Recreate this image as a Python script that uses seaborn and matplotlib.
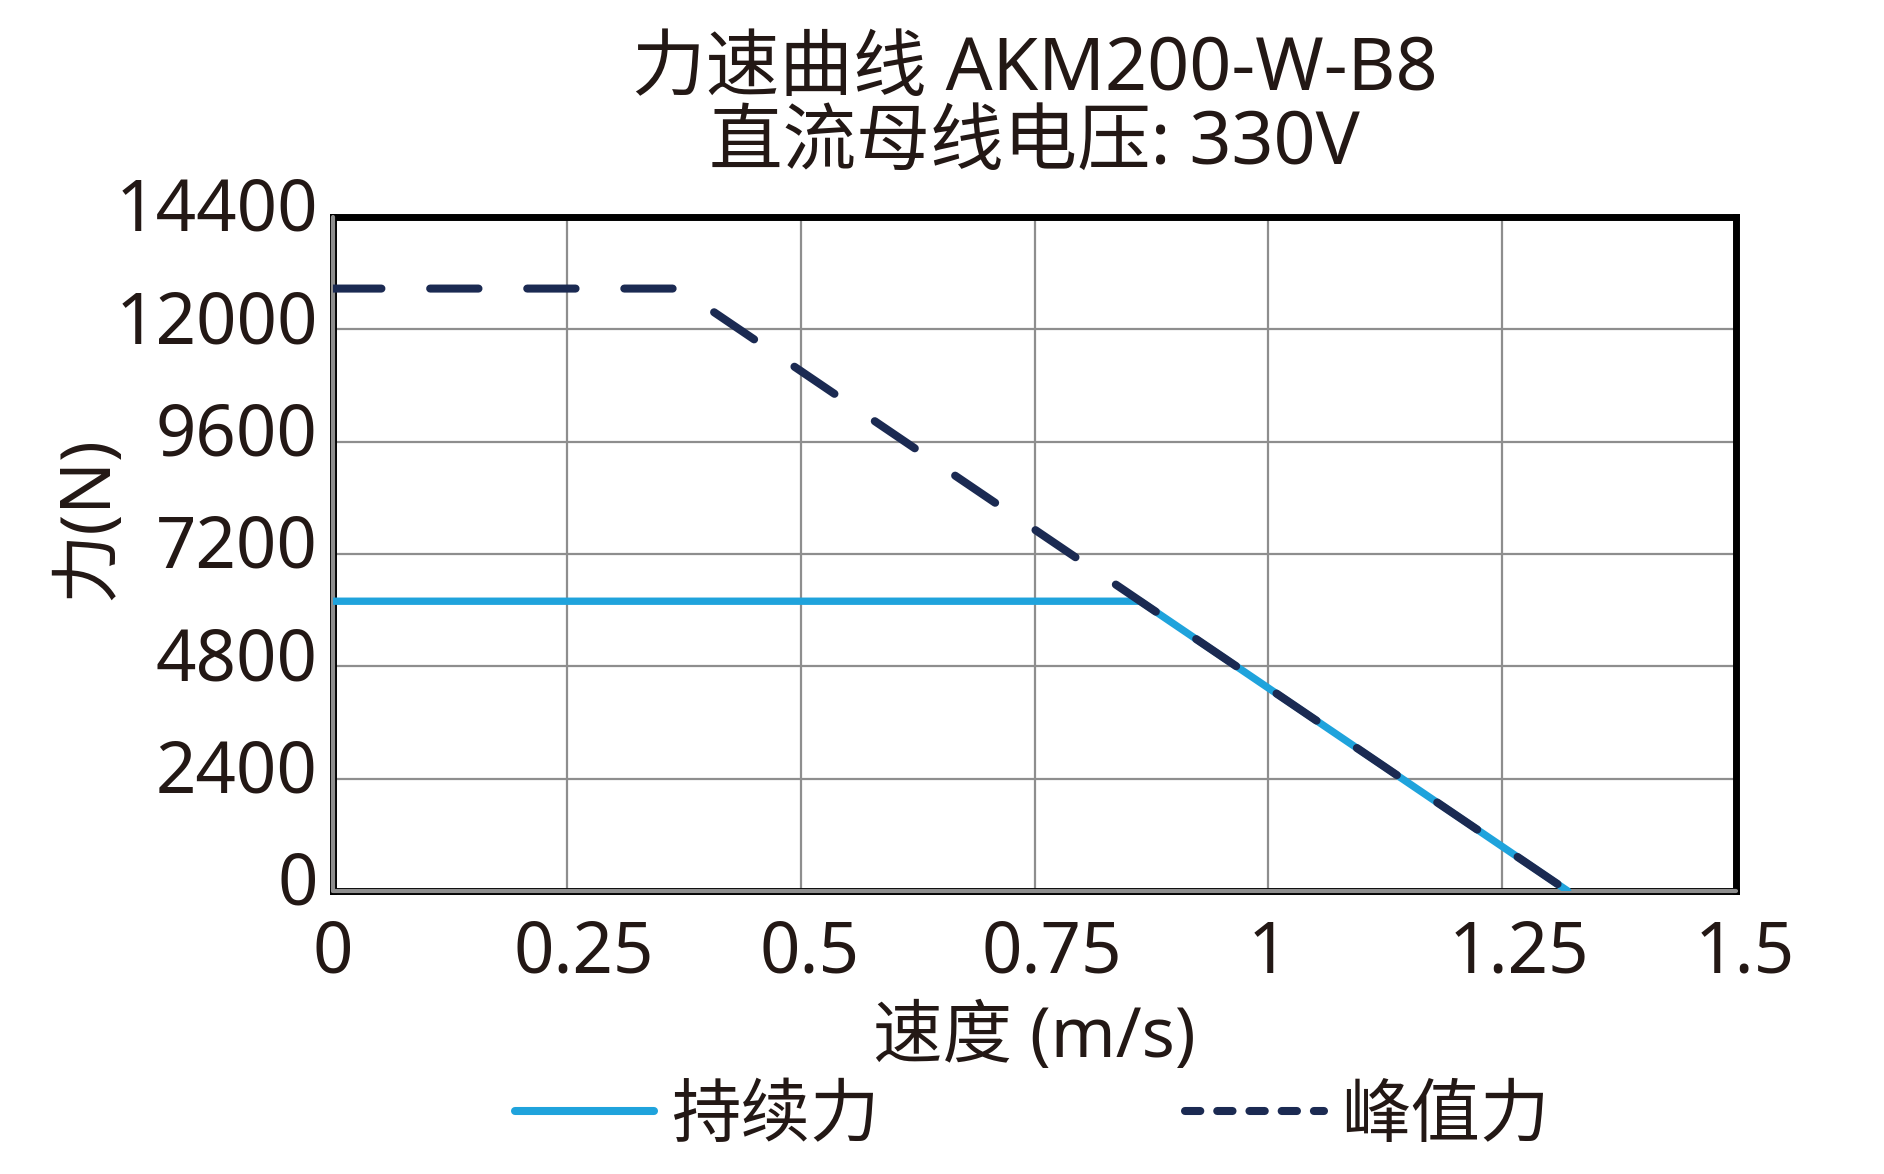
import matplotlib
matplotlib.use("Agg")
import matplotlib.pyplot as plt
from matplotlib.lines import Line2D
from matplotlib.transforms import ScaledTranslation
import seaborn as sns
import pandas as pd

# ---- data ----
cont_speed = [0.0, 0.863, 1.32]
cont_force = [6190, 6190, 0]
peak_speed = [0.0, 0.37, 1.32]
peak_force = [12870, 12870, 0]
x_ticks = [0, 0.25, 0.5, 0.75, 1.0, 1.25, 1.5]
x_tick_labels = ["0", "0.25", "0.5", "0.75", "1", "1.25", "1.5"]
y_ticks = [0, 2400, 4800, 7200, 9600, 12000, 14400]
y_tick_labels = ["0", "2400", "4800", "7200", "9600", "12000", "14400"]
series_names = ["持续力", "峰值力"]
title_text = "力速曲线 AKM200-W-B8\n直流母线电压: 330V"
x_label = "速度 (m/s)"
y_label = "力(N)"

BLUE = "#1fa3dc"
NAVY = "#1b2a52"
TEXT = "#231815"
GRID = "#8e8e8e"

sns.set_theme(style="white")
plt.rcParams["font.family"] = ["Noto Sans", "Noto Sans CJK SC", "DejaVu Sans"]
plt.rcParams["text.color"] = TEXT
plt.rcParams["axes.labelcolor"] = TEXT
plt.rcParams["xtick.color"] = TEXT
plt.rcParams["ytick.color"] = TEXT

fig = plt.figure(figsize=(18.84, 11.74), dpi=100)
ax = fig.add_axes([0.1768, 0.2411, 0.7447, 0.5741])

df_c = pd.DataFrame({"speed": cont_speed, "force": cont_force})
df_p = pd.DataFrame({"speed": peak_speed, "force": peak_force})

sns.lineplot(data=df_c, x="speed", y="force", ax=ax, color=BLUE, lw=5.3,
             solid_capstyle="round", solid_joinstyle="round", zorder=4,
             estimator=None, sort=False)
sns.lineplot(data=df_p, x="speed", y="force", ax=ax, color=NAVY, lw=5.8,
             linestyle=(0, (6.0, 6.05)), dash_capstyle="round",
             dash_joinstyle="round", zorder=5, estimator=None, sort=False)

ax.set_xlim(0, 1.5)
ax.set_ylim(0, 14400)
ax.set_xticks(x_ticks)
ax.set_xticklabels(x_tick_labels)
ax.set_yticks(y_ticks)
ax.set_yticklabels(y_tick_labels)
ax.tick_params(axis="both", length=0, labelsize=51)
ax.tick_params(axis="x", pad=20)
ax.tick_params(axis="y", pad=11)

# small offsets of the tick labels, as in the reference rendering
for lbl in ax.get_xticklabels():
    n = len(lbl.get_text())
    dx = max(0, n - 2) * 8.5 / fig.dpi
    lbl.set_transform(lbl.get_transform() + ScaledTranslation(dx, 0, fig.dpi_scale_trans))
for lbl in ax.get_yticklabels():
    lbl.set_transform(lbl.get_transform() + ScaledTranslation(0, 13 / fig.dpi, fig.dpi_scale_trans))

ax.grid(True, color=GRID, lw=1.6)
ax.set_axisbelow(True)

for side in ["top", "right", "left", "bottom"]:
    ax.spines[side].set_visible(True)
    ax.spines[side].set_color("black")
    ax.spines[side].set_linewidth(5)
ax.axvline(0, color=GRID, lw=3, zorder=3, clip_on=False)
ax.axhline(0, color=GRID, lw=3, zorder=3, clip_on=False)

ax.set_xlabel(x_label, fontsize=50, labelpad=10)
ax.set_ylabel(y_label, fontsize=50, va="center", rotation_mode="anchor")
ax.yaxis.set_label_coords(-0.174, 0.553)

ax.set_title(title_text, fontsize=53, pad=38, linespacing=1.0, color=TEXT)

handles = [
    Line2D([0], [0], color=BLUE, lw=5.8, solid_capstyle="round"),
    Line2D([0], [0], color=NAVY, lw=5.8, linestyle=(0, (1.9, 2.1)),
           dash_capstyle="round"),
]
leg = fig.legend(handles=handles, labels=series_names, loc="center",
                 bbox_to_anchor=(0.548, 0.048), ncol=2, frameon=False,
                 fontsize=50, handlelength=2.0, handletextpad=0.25,
                 columnspacing=4.4)

fig.savefig("out.png", dpi=100)
